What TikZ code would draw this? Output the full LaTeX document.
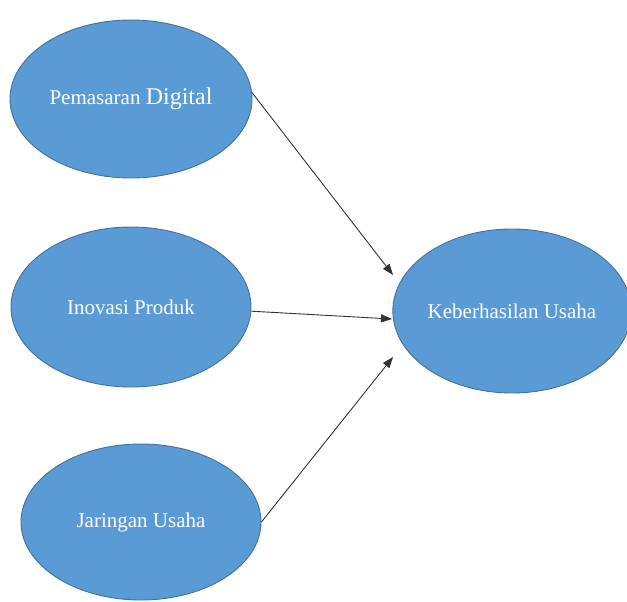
\documentclass[tikz,border=0pt]{standalone}
\usepackage{fontspec}
\setmainfont{Liberation Serif}
\usetikzlibrary{shapes.geometric,arrows.meta}
\definecolor{ovalfill}{HTML}{5B9BD5}
\definecolor{ovalline}{HTML}{41719C}
\definecolor{arrowcol}{HTML}{333333}
\tikzset{
  oval/.style={ellipse, draw=ovalline, line width=0.9pt, fill=ovalfill, inner sep=0pt,
    text=white, font=\fontsize{21}{25}\selectfont},
  link/.style={draw=arrowcol, line width=0.9pt, -{Triangle[length=11pt,width=8pt]}}
}
\begin{document}
\begin{tikzpicture}[x=1pt,y=-1pt]
\fill[white] (0,0) rectangle (627,602);
\useasboundingbox (0,0) rectangle (627,602);
\node[oval, minimum width=242pt, minimum height=158pt] (p) at (131,99)
  {Pemasaran {\fontsize{24}{28}\selectfont Digital}};
\node[oval, minimum width=240pt, minimum height=160pt] (i) at (131,307) {Inovasi Produk};
\node[oval, minimum width=240pt, minimum height=156pt] (j) at (141,522) {Jaringan Usaha};
\node[oval, minimum width=234pt, minimum height=164pt] (k) at (512,311) {Keberhasilan Usaha};
\coordinate (t1) at (393,275);
\coordinate (t2) at (392,319);
\coordinate (t3) at (393,357);
\draw[link] (p.3) -- (t1);
\draw[link] (i.-2.5) -- (t2);
\draw[link] (j.east) -- (t3);
\end{tikzpicture}
\end{document}
